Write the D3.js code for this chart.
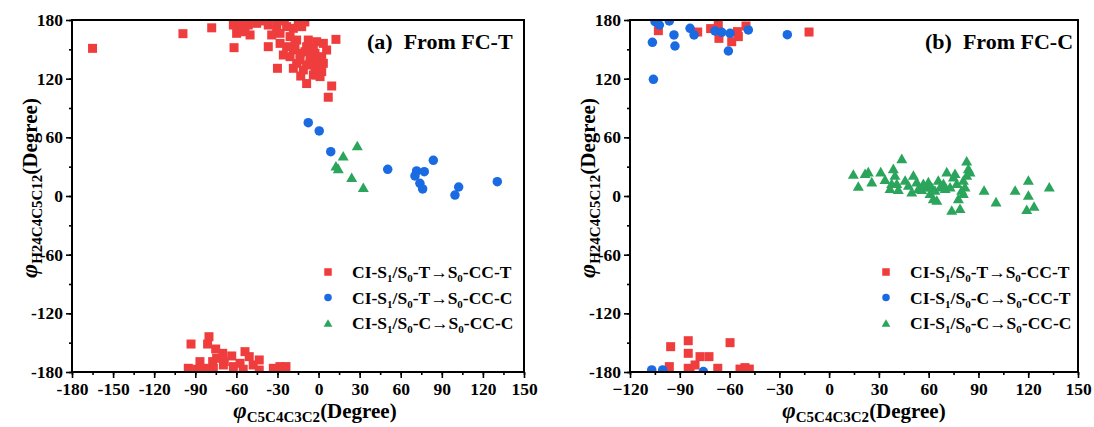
<!DOCTYPE html>
<html>
<head>
<meta charset="utf-8" />
<script src="https://d3js.org/d3.v7.min.js"></script>
<style>
  body { margin: 0; background: #fff; }
  svg text { font-family: "Liberation Serif", "Times New Roman", serif; font-weight: bold; fill: #000; }
</style>
</head>
<body>
<svg id="chart" width="1094" height="427"></svg>
<script>
var red = "#ef3d3d", blue = "#1a6ae2", green = "#2ba45c";

// ---- panel (a) data: [phi C5C4C3C2, phi H24C4C5C12]
var aRed = [
  [-165,151],[-99,166],[-78,172],[-61.7,151.7],[-36.7,152.7],[-30,130.6],[-13,122.7],[-8.7,115],
  [9.6,112.5],[7.1,101],[12.7,160.2],[-1.4,123.8],
  [-62.2,174.9],[-56.1,176.6],[-51.3,174.9],[-45.2,176.6],[-59.8,166.4],[-53.7,168],[-50,164.7],[-57.3,171.5],
  [-55,179],[-40,179],[-25,179],[-10,178],
  [-36.7,174.9],[-30.6,176.6],[-34.2,164.7],[-28.1,166.4],[-23.3,173.2],[-18.4,171.5],[-14.8,176.6],[-12.3,173.2],
  [-20.8,163],[-16,159.5],[-7.5,159.5],[-1.4,157.8],[3.5,156.1],[-8.7,152.7],[-3.8,151],[5.9,149.3],
  [-23.3,152.7],[-18.4,149.3],[-13.5,145.9],[-6.2,142.5],[-0.2,139.1],[3.5,135.7],[-20.8,142.5],[-16,135.7],
  [-8.7,134],[-2.6,130.6],[2.3,127.2],[-18.4,130.6],[-11.1,128.9],[-3.8,123.8],[1.1,122.1],[-25.7,144.2],
  [-28.1,156.1],[-30.6,169.8],[-17.2,154.4],[-9.9,147.6],[-2.6,145.9],[2.3,142.5],[-13.5,139.1],[-6.2,135.7],
  [-0.2,132.3],
  [-93.1,-151.4],[-80,-143.9],[-81,-151.4],[-75.1,-156.5],[-70,-160.9],[-63.4,-163.6],[-74.4,-166],[-68.8,-169.4],
  [-53.7,-159.2],[-50.6,-164.3],[-43.3,-167.7],[-57.3,-171.1],[-47.7,-172.8],[-86.6,-169.4],[-95.1,-176.2],
  [-89,-177.2],[-82.9,-176.2],[-76.8,-176.2],[-69.5,-172.8],[-62.2,-174.5],[-55,-177.2],[-43.3,-178],
  [-33,-176.2],[-28.2,-174.5],[-23.8,-174.5],[-77.3,-169.4]
];
var aBlue = [
  [-7.5,75],[0.5,66.5],[8.9,45.3],[50.5,27.3],[71.6,25.6],[70.4,20.5],[77.2,24.9],[83.8,36.5],
  [74,13],[76,7.2],[102.3,9.2],[99.6,1],[130.5,14.6]
];
var aGreen = [[28.3,51.6],[18,41.2],[12.7,31],[14.4,28.3],[24.2,19.1],[32.7,8.9]];

// ---- panel (b) data
var bRed = [
  [-102.9,169.1],[-79.2,167.7],[-71.4,171.2],[-66.8,174.9],[-66.4,161.2],[-58.7,157.8],[-55.3,168.1],
  [-54.7,163],[-50.1,173.9],[-12.1,167.7],
  [-95.5,-154.1],[-84.9,-148],[-84.9,-160.9],[-77.8,-164.3],[-72.4,-164.3],[-59.7,-150],[-96.3,-174.5],
  [-84.9,-176.2],[-83.8,-178],[-80.8,-172.8],[-67.1,-176.2],[-53.7,-177],[-50.7,-175.5],[-48.1,-177]
];
var bBlue = [
  [-104.9,178.3],[-102.3,174.9],[-96.3,179],[-106.5,157.2],[-93.5,164.7],[-92.9,153.4],[-105.9,119.3],
  [-83.8,171.5],[-81.4,164.7],[-68.8,168.8],[-64.7,167.4],[-59.7,166.4],[-60.7,148.3],[-48.7,169.8],
  [-25.2,165],
  [-106.9,-177.9],[-100.3,-177.9],[-75.8,-179.6]
];
var bGreen = [
  [14.6,22.5],[17.6,10.2],[21.7,23.2],[23.6,24.9],[25.7,14.7],[31.1,24.9],[33.7,17.1],[36.7,7.9],
  [38.7,28.3],[39.7,21.5],[43.8,38.5],[40.8,13],[37.7,13],[41.7,6.9],[45.8,16.4],[47.8,11.3],
  [49.8,4.4],[50.8,21.5],[52.8,14.7],[53.8,7.9],[55.8,6.9],[58.8,9.5],[59.8,14.7],[60.8,2.8],
  [62.8,-2.4],[64.9,-4.1],[61.8,9.5],[65.8,16.4],[66.9,9.5],[68.9,13],[70.9,24.9],[69.9,7.9],
  [72.9,9.5],[75.9,23.2],[76.9,13],[77.9,-2.4],[79.9,6.1],[80.9,16.4],[81.9,9.5],[82.9,36.1],
  [83.9,28.3],[82.9,21.5],[84.9,24.9],[80.9,2.8],[73.9,-14.3],[78.9,-12.6],[93.4,6.1],[100.6,-5.8],
  [112.1,6.1],[120.1,16.4],[120.1,1],[119.1,-13.6],[123.5,-10.2],[132.7,9.5],[74.9,19.8],[56.8,13],[63.8,6.1]
];

var aXTicks = [-180,-150,-120,-90,-60,-30,0,30,60,90,120,150];
var bXTicks = [-120,-90,-60,-30,0,30,60,90,120,150];
var yTicks = [-180,-120,-60,0,60,120,180];

// legend entries: [start state, end state]
var aLegend = [["T","CC-T"],["T","CC-C"],["C","CC-C"]];
var bLegend = [["T","CC-T"],["C","CC-T"],["C","CC-C"]];

var svg = d3.select("#chart");

function shape(g, kind, color, s) {
  if (kind == "square") {
    g.append("rect").attr("x", -s/2).attr("y", -s/2).attr("width", s).attr("height", s).attr("fill", color);
  } else if (kind == "circle") {
    g.append("circle").attr("r", s/2).attr("fill", color);
  } else {
    g.append("path").attr("d", "M0," + (-s*0.48) + "L" + (s*0.55) + "," + (s*0.48) + "L" + (-s*0.55) + "," + (s*0.48) + "Z").attr("fill", color);
  }
}

function drawPanel(p) {
  var top = 20, bottom = 372;
  var x = d3.scaleLinear().domain(p.xDomain).range([p.left, p.right]);
  var y = d3.scaleLinear().domain([-180, 180]).range([bottom, top]);
  var g = svg.append("g");

  g.append("clipPath").attr("id", "clip" + p.id)
    .append("rect").attr("x", p.left).attr("y", top).attr("width", p.right - p.left).attr("height", bottom - top);

  var pts = g.append("g").attr("clip-path", "url(#clip" + p.id + ")");
  p.series.forEach(function(s) {
    pts.selectAll(null).data(s.data).enter().append("g")
      .attr("transform", function(d) { return "translate(" + x(d[0]) + "," + y(d[1]) + ")"; })
      .each(function() { shape(d3.select(this), s.kind, s.color, s.size); });
  });

  // minor ticks
  var xMinor = d3.range(p.xDomain[0], p.xDomain[1] + 1, 15);
  var yMinor = d3.range(-180, 181, 30);
  g.append("g").attr("transform", "translate(0," + bottom + ")")
    .call(d3.axisBottom(x).tickValues(xMinor).tickSize(3).tickFormat(""));
  g.append("g").attr("transform", "translate(" + p.left + ",0)")
    .call(d3.axisLeft(y).tickValues(yMinor).tickSize(3).tickFormat(""));

  // major ticks
  g.append("g").attr("transform", "translate(0," + bottom + ")")
    .call(d3.axisBottom(x).tickValues(p.xTicks).tickSize(6).tickPadding(5).tickFormat(p.xFmt));
  g.append("g").attr("transform", "translate(" + p.left + ",0)")
    .call(d3.axisLeft(y).tickValues(yTicks).tickSize(6).tickPadding(3).tickFormat(function(d) { return String(d); }));

  g.selectAll(".domain").remove();
  g.selectAll(".tick line").attr("stroke", "#000").attr("stroke-width", 1.6);
  g.selectAll(".tick text").attr("font-size", 17.5).attr("font-family", "Liberation Serif").attr("font-weight", "bold");

  g.append("rect").attr("x", p.left).attr("y", top).attr("width", p.right - p.left).attr("height", bottom - top)
    .attr("fill", "none").attr("stroke", "#000").attr("stroke-width", 2);

  // title
  g.append("text").attr("x", p.titleX).attr("y", 49).attr("font-size", 22).text(p.title);

  // x label
  var xl = g.append("text").attr("x", p.xLabelX).attr("y", 418).attr("text-anchor", "middle");
  xl.append("tspan").attr("font-size", 23).attr("font-style", "italic").text("\u03c6");
  xl.append("tspan").attr("font-size", 15).attr("dy", 4).text("C5C4C3C2");
  xl.append("tspan").attr("font-size", 21).attr("dy", -4).text("(Degree)");

  // y label
  var yl = g.append("text").attr("transform", "translate(" + (p.left - 35) + ",188) rotate(-90)").attr("text-anchor", "middle");
  yl.append("tspan").attr("font-size", 24).attr("font-style", "italic").text("\u03c6");
  yl.append("tspan").attr("font-size", 15).attr("dy", 5).text("H24C4C5C12");
  yl.append("tspan").attr("font-size", 21).attr("dy", -5).text("(Degree)");

  // legend
  p.legend.forEach(function(l, i) {
    var ly = 272 + i * 25.5;
    var s = p.series[i];
    var m = g.append("g").attr("transform", "translate(" + p.legendX + "," + ly + ")");
    shape(m, s.kind, s.color, s.kind == "triangle" ? 8 : 7.5);
    var t = g.append("text").attr("x", p.legendX + 24).attr("y", ly + 6).attr("font-size", 17.5);
    t.append("tspan").text("CI-S");
    t.append("tspan").attr("font-size", 11).attr("dy", 4).text("1");
    t.append("tspan").attr("dy", -4).text("/S");
    t.append("tspan").attr("font-size", 11).attr("dy", 4).text("0");
    t.append("tspan").attr("dy", -4).text("-" + l[0] + "\u2192S");
    t.append("tspan").attr("font-size", 11).attr("dy", 4).text("0");
    t.append("tspan").attr("dy", -4).text("-" + l[1]);
  });
}

drawPanel({
  id: "a", left: 72, right: 524, xDomain: [-180, 150], xTicks: aXTicks,
  xFmt: function(d) { return String(d); },
  title: "(a)\u00a0\u00a0From FC-T", titleX: 367, xLabelX: 315, legendX: 328, legend: aLegend,
  series: [
    { data: aRed, kind: "square", color: red, size: 9 },
    { data: aBlue, kind: "circle", color: blue, size: 9.5 },
    { data: aGreen, kind: "triangle", color: green, size: 10 }
  ]
});

drawPanel({
  id: "b", left: 630, right: 1078, xDomain: [-120, 150], xTicks: bXTicks,
  xFmt: function(d) { return d < 0 ? "\u2212" + (-d) : String(d); },
  title: "(b)\u00a0\u00a0From FC-C", titleX: 925, xLabelX: 864, legendX: 886, legend: bLegend,
  series: [
    { data: bRed, kind: "square", color: red, size: 9 },
    { data: bBlue, kind: "circle", color: blue, size: 9.5 },
    { data: bGreen, kind: "triangle", color: green, size: 10 }
  ]
});
</script>
</body>
</html>
